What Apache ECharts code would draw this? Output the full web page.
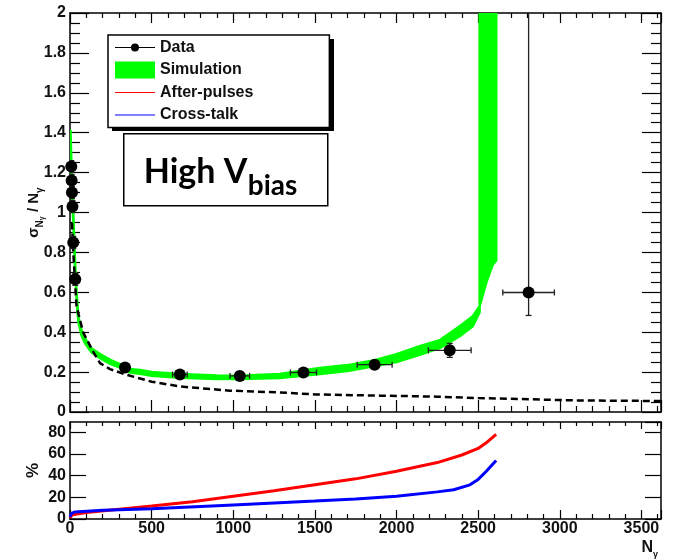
<!DOCTYPE html>
<html>
<head>
<meta charset="utf-8">
<title>High Vbias resolution</title>
<script src="https://cdn.jsdelivr.net/npm/echarts@6/dist/echarts.min.js"></script>
<style>
  html, body { margin: 0; padding: 0; background: #fff; }
  #chart { width: 687px; height: 559px; }
</style>
</head>
<body>
<div id="chart"></div>
<script>
// measured points: N_gamma, sigma/N, x error, y error down, y error up
const dataN = [8, 10, 12, 15, 20, 32, 337, 673, 1040, 1430, 1866, 2326, 2809];
const dataRes = [1.23, 1.16, 1.10, 1.03, 0.85, 0.665, 0.223, 0.188, 0.181, 0.198, 0.237, 0.309, 0.599];
const dataErrX = [0, 0, 0, 0, 0, 0, 20, 45, 60, 80, 107, 131, 158];
const dataErrLo = [0.03, 0.03, 0.03, 0.03, 0.03, 0.03, 0.01, 0.01, 0.01, 0.01, 0.012, 0.035, 0.115];
const dataErrHi = [0.03, 0.03, 0.03, 0.03, 0.03, 0.03, 0.01, 0.01, 0.01, 0.01, 0.012, 0.035, 1.6];

// simulation band edges
const simUpperN = [3, 8, 14, 20, 30, 40, 51, 70, 92, 130, 184, 250, 306, 367, 428, 500, 673, 900, 1040, 1285, 1530, 1700, 1866, 2000, 2142, 2264, 2387, 2467, 2509, 2550, 2590, 2611, 2611];
const simUpperRes = [1.41, 1.26, 1.10, 1.00, 0.77, 0.60, 0.48, 0.41, 0.37, 0.32, 0.29, 0.26, 0.24, 0.215, 0.21, 0.20, 0.19, 0.183, 0.182, 0.19, 0.22, 0.235, 0.26, 0.29, 0.33, 0.36, 0.43, 0.48, 0.53, 0.65, 0.74, 0.76, 2.0];
const simLowerN = [3, 8, 14, 20, 30, 40, 51, 70, 92, 130, 184, 250, 306, 367, 428, 500, 673, 900, 1040, 1285, 1530, 1700, 1866, 2000, 2142, 2264, 2387, 2467, 2509, 2509];
const simLowerRes = [1.37, 1.22, 1.06, 0.96, 0.74, 0.57, 0.455, 0.385, 0.345, 0.30, 0.27, 0.24, 0.222, 0.198, 0.192, 0.182, 0.172, 0.166, 0.165, 0.17, 0.19, 0.205, 0.23, 0.25, 0.287, 0.32, 0.38, 0.43, 0.50, 2.0];

// dashed reference curve
const poissonN = [12, 20, 40, 80, 143, 184, 245, 348, 500, 673, 979, 1285, 1500, 1900, 2250, 2500, 2900, 3100, 3620];
const poissonRes = [0.95, 0.80, 0.53, 0.40, 0.30, 0.245, 0.215, 0.186, 0.152, 0.128, 0.107, 0.098, 0.088, 0.082, 0.077, 0.07, 0.062, 0.058, 0.055];

// lower panel, percent
const afterN = [0, 15, 100, 300, 500, 750, 1000, 1250, 1500, 1750, 2000, 2250, 2400, 2500, 2560, 2610];
const afterPct = [1, 4, 6, 9, 12, 16, 21, 26, 31.5, 37, 44, 52, 59, 65, 71.5, 78];
const crossN = [0, 8, 30, 200, 500, 1000, 1500, 1750, 2000, 2250, 2350, 2450, 2500, 2550, 2610];
const crossPct = [2, 5, 6.5, 8, 9.5, 13, 16.5, 18.5, 21, 25, 27, 31.5, 36.5, 44, 54];

const font = 'Liberation Sans, Arial, sans-serif';
const labelStyle = { fontFamily: font, fontWeight: 'bold', fontSize: 16, color: '#111' };

const chart = echarts.init(document.getElementById('chart'));

// common axis pieces
const xBase = (gridIndex, position, showLabel, major, minor) => ({
  type: 'value',
  gridIndex: gridIndex,
  position: position,
  min: 0,
  max: 3620,
  interval: 500,
  axisLine: { show: true, onZero: false, lineStyle: { color: '#000', width: 1.5 } },
  axisTick: { show: true, inside: true, length: major, lineStyle: { color: '#000', width: 1.2 } },
  minorTick: { show: true, splitNumber: 5, length: minor, lineStyle: { color: '#000', width: 1.2 } },
  axisLabel: Object.assign({ show: showLabel, margin: 2, showMaxLabel: false, formatter: v => String(v) }, labelStyle),
  splitLine: { show: false },
  minorSplitLine: { show: false }
});

const yUpper = (position, showLabel) => ({
  type: 'value',
  gridIndex: 0,
  position: position,
  min: 0,
  max: 2,
  interval: 0.2,
  axisLine: { show: true, onZero: false, lineStyle: { color: '#000', width: 1.5 } },
  axisTick: { show: true, inside: true, length: 19, lineStyle: { color: '#000', width: 1.2 } },
  minorTick: { show: true, splitNumber: 4, length: 10, lineStyle: { color: '#000', width: 1.2 } },
  axisLabel: Object.assign({ show: showLabel, margin: 4 }, labelStyle),
  splitLine: { show: false }
});

const yLower = (position, showLabel) => ({
  type: 'value',
  gridIndex: 1,
  position: position,
  min: 0,
  max: 89.4,
  interval: 20,
  axisLine: { show: true, onZero: false, lineStyle: { color: '#000', width: 1.5 } },
  axisTick: { show: true, inside: true, length: 16, lineStyle: { color: '#000', width: 1.2 } },
  axisLabel: Object.assign({ show: showLabel, margin: 4, showMaxLabel: false }, labelStyle),
  splitLine: { show: false }
});

const yName = yUpper('left', true);
yName.name = '{a|σ}{b|N}{c|γ}{a| / N}{b|γ}';
yName.nameLocation = 'middle';
yName.nameGap = 24;
yName.nameMoveOverlap = false;
yName.nameTextStyle = {
  fontFamily: font,
  color: '#111',
  rich: {
    a: { fontFamily: font, fontWeight: 'bold', fontSize: 15, color: '#111', verticalAlign: 'bottom', padding: [0, 0, 5, 0] },
    b: { fontFamily: font, fontWeight: 'bold', fontSize: 10, color: '#111', verticalAlign: 'bottom', padding: [0, 0, 1, 0] },
    c: { fontFamily: font, fontWeight: 'bold', fontSize: 7, color: '#111', verticalAlign: 'bottom' }
  }
};

const yPct = yLower('left', true);
yPct.name = '%';
yPct.nameLocation = 'middle';
yPct.nameGap = 28;
yPct.nameMoveOverlap = false;
yPct.nameTextStyle = { fontFamily: font, fontWeight: 'bold', fontSize: 17, color: '#111' };

const xBottom = xBase(1, 'bottom', true, 9, 5);
xBottom.name = '{a|N}{b|γ}';
xBottom.nameLocation = 'end';
xBottom.nameGap = -3;
xBottom.nameMoveOverlap = false;
xBottom.nameTextStyle = {
  align: 'right',
  verticalAlign: 'top',
  padding: [21, 0, 0, 0],
  rich: {
    a: { fontFamily: font, fontWeight: 'bold', fontSize: 16, color: '#111', verticalAlign: 'bottom', padding: [0, 0, 3, 0] },
    b: { fontFamily: font, fontWeight: 'bold', fontSize: 9, color: '#111', verticalAlign: 'bottom' }
  }
};

const option = {
  animation: false,
  backgroundColor: '#fff',
  grid: [
    { left: 70, right: 26, top: 13, height: 399 },
    { left: 70, right: 26, top: 422, height: 105 }
  ],
  xAxis: [
    xBase(0, 'bottom', false, 12, 6),
    xBase(0, 'top', false, 10, 5),
    xBottom,
    xBase(1, 'top', false, 7, 4)
  ],
  yAxis: [
    yName,
    yUpper('right', false),
    yPct,
    yLower('right', false)
  ],
  legend: {
    orient: 'vertical',
    left: 108,
    top: 35,
    padding: [4, 76, 4, 7],
    itemWidth: 40,
    itemHeight: 17,
    itemGap: 5.5,
    selectedMode: false,
    backgroundColor: '#fff',
    borderColor: '#000',
    borderWidth: 1.5,
    borderRadius: 0,
    textStyle: labelStyle,
    data: [
      { name: 'Data', icon: 'path://M0,0 M40,17 M0,7.9 H40 V9.1 H0 Z M24,8.5 A4,4 0 1,1 16,8.5 A4,4 0 1,1 24,8.5 Z' },
      { name: 'Simulation', icon: 'rect' },
      { name: 'After-pulses', icon: 'path://M0,0 M40,17 M0,8 H40 V9 H0 Z' },
      { name: 'Cross-talk', icon: 'path://M0,0 M40,17 M0,8 H40 V9 H0 Z' }
    ]
  },
  graphic: [
    // drop shadow behind the legend box
    { type: 'rect', left: 112, top: 39, z: 3, shape: { width: 222, height: 92 }, style: { fill: '#000' } },
    {
      type: 'group',
      left: 123,
      top: 133,
      z: 100,
      children: [
        { type: 'rect', shape: { x: 0, y: 0, width: 204, height: 72 }, style: { fill: '#fff', stroke: '#000', lineWidth: 1.5 } },
        { type: 'text', x: 20, y: 38, style: { text: 'High V', fontFamily: 'Lato, Open Sans, sans-serif', fontWeight: 'bold', fontSize: 34, fill: '#000', verticalAlign: 'middle' } },
        { type: 'text', x: 124, y: 52, style: { text: 'bias', fontFamily: 'Lato, Open Sans, sans-serif', fontWeight: 'bold', fontSize: 28, fill: '#000', verticalAlign: 'middle' } }
      ]
    }
  ],
  series: [
    {
      name: 'Simulation',
      type: 'custom',
      xAxisIndex: 0,
      yAxisIndex: 0,
      clip: true,
      z: 2,
      itemStyle: { color: '#00ff00' },
      data: [[0, 0]],
      renderItem: (params, api) => {
        const pts = [];
        simUpperN.forEach((n, i) => pts.push(api.coord([n, simUpperRes[i]])));
        for (let i = simLowerN.length - 1; i >= 0; i--) {
          pts.push(api.coord([simLowerN[i], simLowerRes[i]]));
        }
        return {
          type: 'polygon',
          shape: { points: pts },
          style: { fill: '#00ff00', stroke: '#00ff00', lineWidth: 2.5, lineJoin: 'round' }
        };
      }
    },
    {
      name: 'Poisson',
      type: 'line',
      xAxisIndex: 0,
      yAxisIndex: 0,
      z: 3,
      symbol: 'none',
      lineStyle: { color: '#000', width: 2.5, type: [7, 4] },
      data: poissonN.map((n, i) => [n, poissonRes[i]])
    },
    {
      name: 'Data',
      type: 'custom',
      xAxisIndex: 0,
      yAxisIndex: 0,
      clip: true,
      z: 4,
      itemStyle: { color: '#000' },
      encode: { x: 0, y: 1 },
      data: dataN.map((n, i) => [n, dataRes[i], dataErrX[i], dataErrLo[i], dataErrHi[i]]),
      renderItem: (params, api) => {
        const x = api.value(0);
        const y = api.value(1);
        const l = api.coord([x - api.value(2), y]);
        const r = api.coord([x + api.value(2), y]);
        const b = api.coord([x, y - api.value(3)]);
        const t = api.coord([x, y + api.value(4)]);
        const st = { stroke: '#222', lineWidth: 1.3 };
        const kids = [
          { type: 'line', shape: { x1: b[0], y1: b[1], x2: t[0], y2: t[1] }, style: st },
          { type: 'line', shape: { x1: b[0] - 3, y1: b[1], x2: b[0] + 3, y2: b[1] }, style: st },
          { type: 'line', shape: { x1: t[0] - 3, y1: t[1], x2: t[0] + 3, y2: t[1] }, style: st }
        ];
        if (api.value(2) > 0) {
          kids.push(
            { type: 'line', shape: { x1: l[0], y1: l[1], x2: r[0], y2: r[1] }, style: st },
            { type: 'line', shape: { x1: l[0], y1: l[1] - 3, x2: l[0], y2: l[1] + 3 }, style: st },
            { type: 'line', shape: { x1: r[0], y1: r[1] - 3, x2: r[0], y2: r[1] + 3 }, style: st }
          );
        }
        return { type: 'group', children: kids };
      }
    },
    {
      name: 'Data',
      type: 'scatter',
      xAxisIndex: 0,
      yAxisIndex: 0,
      z: 5,
      symbol: 'circle',
      symbolSize: 12,
      itemStyle: { color: '#000', opacity: 1 },
      data: dataN.map((n, i) => [n, dataRes[i]])
    },
    {
      name: 'After-pulses',
      type: 'line',
      xAxisIndex: 2,
      yAxisIndex: 2,
      symbol: 'none',
      itemStyle: { color: '#ff0000' },
      lineStyle: { color: '#ff0000', width: 3 },
      data: afterN.map((n, i) => [n, afterPct[i]])
    },
    {
      name: 'Cross-talk',
      type: 'line',
      xAxisIndex: 2,
      yAxisIndex: 2,
      symbol: 'none',
      itemStyle: { color: '#0000ff' },
      lineStyle: { color: '#0000ff', width: 3 },
      data: crossN.map((n, i) => [n, crossPct[i]])
    }
  ]
};

chart.setOption(option);
</script>
</body>
</html>
